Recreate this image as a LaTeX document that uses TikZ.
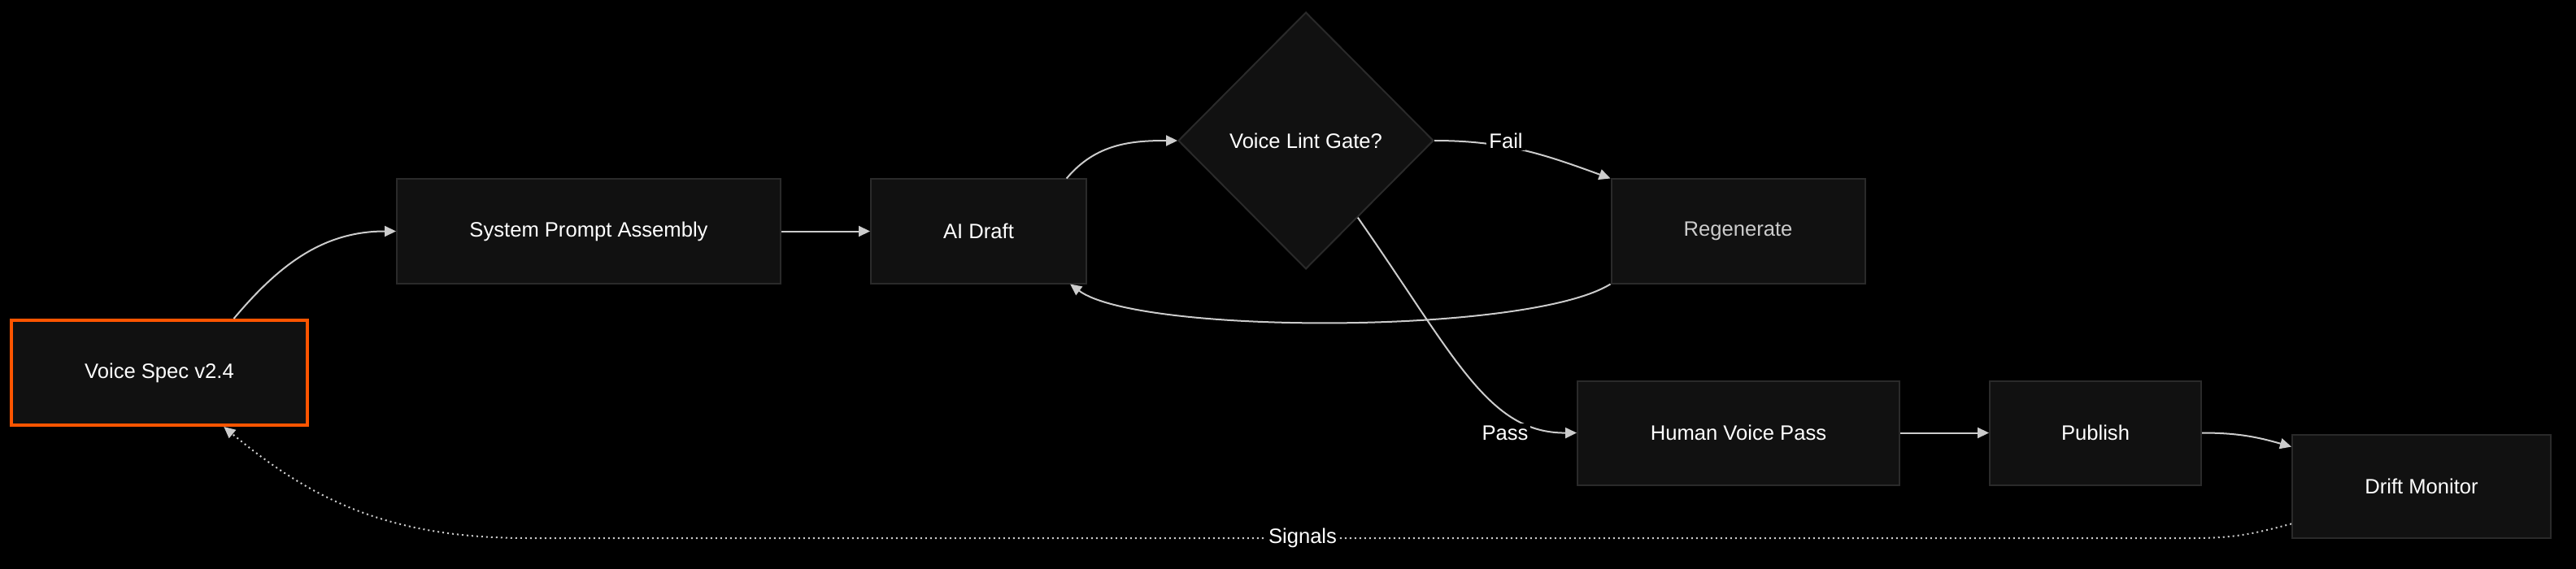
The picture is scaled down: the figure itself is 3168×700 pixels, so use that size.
\documentclass[tikz,border=0pt]{standalone}
\usepackage{fontspec}
\setmainfont{Liberation Sans}
\usetikzlibrary{shapes.geometric, arrows.meta}
\definecolor{boxfill}{HTML}{111111}
\definecolor{boxline}{HTML}{2A2A2A}
\definecolor{specline}{HTML}{FF5500}
\definecolor{edgegray}{HTML}{CCCCCC}

\begin{document}
\begin{tikzpicture}[x=0.5pt, y=0.5pt,
    stepbox/.style={rectangle, draw=boxline, line width=1pt, fill=boxfill, text=white, minimum height=64pt, inner sep=0pt, font=\fontsize{12.8}{15}\selectfont},
    gatebox/.style={diamond, draw=boxline, line width=1pt, fill=boxfill, text=white, minimum width=157pt, minimum height=158pt, inner sep=0pt, font=\fontsize{12.8}{15}\selectfont},
    flow/.style={-{Triangle[length=7pt, width=6.5pt]}, line width=1pt, edgegray},
    signal/.style={flow, dash pattern=on 1pt off 2pt},
    lbl/.style={fill=black, text=white, inner sep=1.5pt, font=\fontsize{12.8}{15}\selectfont}
]
    \useasboundingbox (0,0) rectangle (3168,-700);
    \fill[black] (0,0) rectangle (3168,-700);
    % Steps
    \node[stepbox, draw=specline, line width=2pt, minimum width=182pt, minimum height=64.5pt] (spec) at (196,-458.5) {Voice Spec v2.4};
    \node[stepbox, minimum width=236pt] (prompt) at (724,-284.5) {System Prompt Assembly};
    \node[stepbox, minimum width=132.5pt] (draft) at (1203.5,-284.5) {AI Draft};
    \node[gatebox] (gate) at (1606,-173) {Voice Lint Gate?};
    \node[stepbox, minimum width=156pt, text=edgegray] (regen) at (2137.5,-284.5) {Regenerate};
    \node[stepbox, minimum width=198pt] (human) at (2138,-532.5) {Human Voice Pass};
    \node[stepbox, minimum width=130pt] (publish) at (2577,-532.5) {Publish};
    \node[stepbox, minimum width=159pt, minimum height=63.5pt] (drift) at (2978,-598.5) {Drift Monitor};
    % Main flow
    \draw[flow] (spec.36) to[out=50, in=180] (prompt.west);
    \draw[flow] (prompt.east) -- (draft.west);
    \draw[flow] (draft.31) to[out=50, in=180] (gate.west);
    \draw[flow] (gate.east) to[out=0, in=160] (regen.north west);
    \draw[flow] (regen.south west) .. controls (1880,-412) and (1400,-412) .. (draft.-30);
    \draw[flow] (gate.-56) .. controls (1790,-440) and (1830,-533) .. (human.west);
    \draw[flow] (human.east) -- (publish.west);
    \draw[flow] (publish.east) to[out=0, in=164] (drift.163);
    % Feedback
    \draw[signal] (drift.196) to[out=195, in=0] (2700,-662) -- (650,-662) to[out=180, in=-40] (spec.-40);
    % Edge labels
    \node[lbl] (failtxt) at (1852,-173) {Fail};
    \node[lbl] (passtxt) at (1851,-533) {Pass};
    \node[lbl] (sigtxt) at (1602,-662) {Signals};
\end{tikzpicture}
\end{document}
